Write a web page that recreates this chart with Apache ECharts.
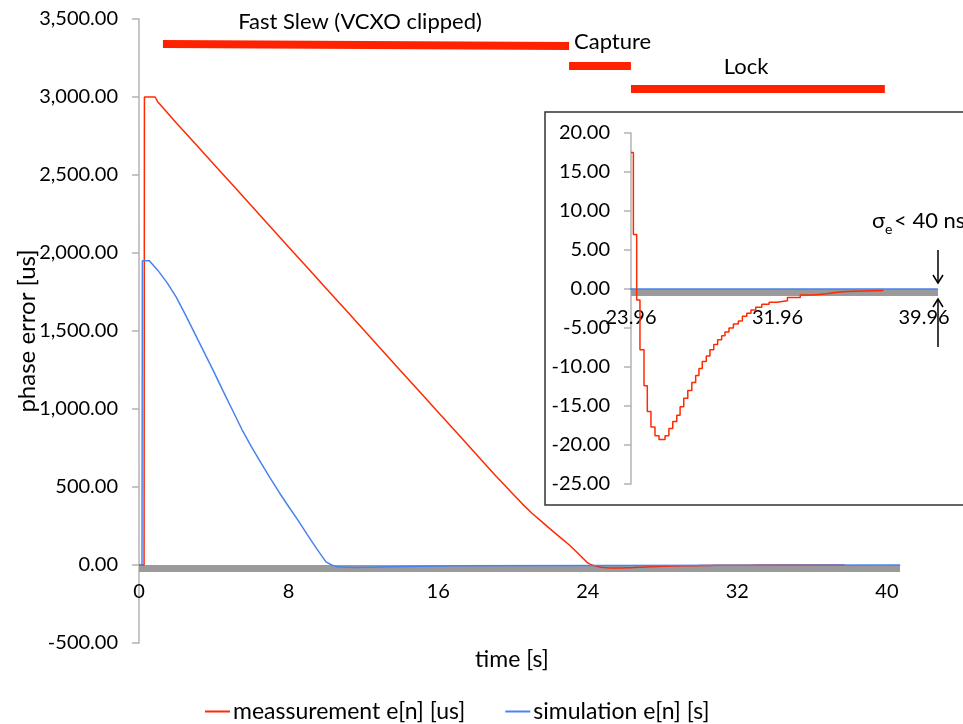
<!DOCTYPE html>
<html>
<head>
<meta charset="utf-8">
<style>
  html, body { margin: 0; padding: 0; background: #fff; }
  #chart { width: 963px; height: 724px; }
</style>
</head>
<body>
<div id="chart"></div>
<script src="https://cdn.jsdelivr.net/npm/echarts@6/dist/echarts.min.js"></script>
<script>
// measurement during fast slew, time [s] / phase error [us]
let slewTime = [0, 0.27, 0.29, 0.86, 1, 2, 3, 4, 5, 6, 7, 8, 9, 10, 11, 12, 13, 14, 15, 16, 17, 18, 19, 20, 20.5, 21, 21.6, 22, 22.67, 23, 23.42]
let slewValue = [0, 0, 3000, 3000, 2970, 2834, 2702, 2569, 2437, 2304, 2172, 2039, 1907, 1774, 1642, 1509, 1377, 1244, 1112, 979, 847, 714, 582, 455, 392, 333, 272, 230, 163, 130, 82]

// measurement after capture (also the inset)
let lockTime = [23.96, 24.09, 24.27, 24.45, 24.67, 24.85, 25.05, 25.27, 25.49, 25.82, 26.03, 26.24, 26.46, 26.64, 26.84, 27.06, 27.28, 27.49, 27.67, 27.85, 28.07, 28.27, 28.48, 28.69, 28.91, 29.09, 29.31, 29.55, 29.82, 30.04, 30.28, 30.51, 30.77, 31.1, 31.5, 31.92, 32.5, 33.2, 33.9, 34.65, 35.2, 35.74, 36.7, 37.74]
let lockValue = [17.5, 7.0, -1.4, -7.8, -12.4, -15.7, -17.7, -18.8, -19.3, -18.8, -17.9, -17.0, -16.2, -15.1, -14.0, -13.0, -12.0, -11.1, -10.2, -9.3, -8.6, -7.8, -7.1, -6.5, -6.0, -5.5, -5.0, -4.5, -4.1, -3.5, -3.1, -2.7, -2.35, -1.96, -1.7, -1.5, -1.1, -0.77, -0.6, -0.42, -0.33, -0.26, -0.2, -0.17]

// simulation
let simTime = [0, 0.16, 0.18, 0.55, 1, 1.5, 2, 2.5, 3, 3.5, 4, 4.5, 5, 5.5, 6, 6.5, 7, 7.5, 8, 8.5, 9, 9.5, 10, 10.3, 10.6, 11.5, 13.5, 17, 17.1, 40.7]
let simValue = [0, 0, 1951, 1951, 1890, 1810, 1715, 1600, 1480, 1360, 1240, 1115, 992, 870, 760, 660, 560, 465, 375, 288, 195, 105, 20, 0, -12, -16, -12, -5, 0, 0]

// grey band under the zero line
let bandTime = [0, 40.7]
let bandValue = [-22, -22]
let bandInsetTime = [23.96, 40.72]
let bandInsetValue = [-0.45, -0.45]

// phases drawn as red bars on top
let phaseStart = [1.28, 23.0, 26.31]
let phaseEnd = [23.0, 26.31, 39.89]

let zip = (xs, ys) => xs.map((x, i) => [x, ys[i]])

let red = '#ff2a00'
let blue = '#4a82f0'
let grey = '#9a9a9a'
let font = 'Lato'

let myChart = echarts.init(document.getElementById('chart'))
let axisGrey = { color: '#b3b3b3', width: 1.5 }

let option = {
  animation: false,
  textStyle: { fontFamily: font },
  grid: [
    { left: 139, top: 19, width: 761, height: 624, outerBoundsMode: 'none' },
    { left: 631, top: 133, width: 307, height: 351, outerBoundsMode: 'none' }
  ],
  legend: {
    left: 205,
    top: 700,
    padding: 0,
    icon: 'rect',
    itemWidth: 25,
    itemHeight: 2,
    itemGap: 40,
    data: ['meassurement e[n] [us]', 'simulation e[n] [s]'],
    textStyle: { fontFamily: font, fontSize: 23, color: '#000', padding: [0, 0, 0, -2] }
  },
  xAxis: [
    {
      // x axis sits on the zero line (-500..3500 over 624px)
      type: 'value', gridIndex: 0, min: 0, max: 40.7, interval: 8, offset: -78,
      axisLine: { show: true, onZero: false, lineStyle: { color: '#b3b3b3' } },
      axisTick: { show: false },
      splitLine: { show: false },
      axisLabel: { margin: 17, fontSize: 20, color: '#000', fontFamily: font, showMaxLabel: false }
    },
    {
      type: 'value', gridIndex: 1, min: 23.96, max: 40.72, interval: 8, offset: -195,
      axisLine: { show: true, onZero: false, lineStyle: { color: '#b3b3b3' } },
      axisTick: { show: false },
      splitLine: { show: false },
      axisLabel: {
        margin: 19, fontSize: 20, color: '#000', fontFamily: font, showMaxLabel: false,
        formatter: v => v.toFixed(2)
      }
    }
  ],
  yAxis: [
    {
      type: 'value', gridIndex: 0, min: -500, max: 3500, interval: 500,
      axisLine: { show: true, onZero: false, lineStyle: axisGrey },
      axisTick: { show: true, length: 7, lineStyle: axisGrey },
      splitLine: { show: false },
      axisLabel: {
        margin: 21, fontSize: 20, color: '#000', fontFamily: font,
        formatter: v => v.toLocaleString('en-US', { minimumFractionDigits: 2, maximumFractionDigits: 2 })
      }
    },
    {
      type: 'value', gridIndex: 1, min: -25, max: 20, interval: 5,
      axisLine: { show: true, onZero: false, lineStyle: axisGrey },
      axisTick: { show: true, length: 7, lineStyle: axisGrey },
      splitLine: { show: false },
      axisLabel: { margin: 21, fontSize: 20, color: '#000', fontFamily: font, formatter: v => v.toFixed(2) }
    }
  ],
  series: [
    {
      name: 'band', type: 'line', xAxisIndex: 0, yAxisIndex: 0, z: 1,
      data: zip(bandTime, bandValue), symbol: 'none', silent: true,
      lineStyle: { color: grey, width: 7, cap: 'butt' }
    },
    {
      name: 'meassurement e[n] [us]', type: 'line', xAxisIndex: 0, yAxisIndex: 0, z: 3,
      data: zip(slewTime.concat(lockTime), slewValue.concat(lockValue)),
      symbol: 'none', color: red, lineStyle: { color: red, width: 1.5 },
      markLine: {
        silent: true,
        symbol: ['none', 'none'],
        label: { show: false },
        emphasis: { disabled: true },
        lineStyle: { color: '#ff2200', width: 8, type: 'solid', cap: 'butt' },
        data: [
          [{ coord: [phaseStart[0], 3340] }, { coord: [phaseEnd[0], 3327] }],
          [{ coord: [phaseStart[1], 3199] }, { coord: [phaseEnd[1], 3199] }],
          [{ coord: [phaseStart[2], 3054] }, { coord: [phaseEnd[2], 3054] }]
        ]
      }
    },
    {
      name: 'simulation e[n] [s]', type: 'line', xAxisIndex: 0, yAxisIndex: 0, z: 4,
      data: zip(simTime, simValue),
      symbol: 'none', color: blue, lineStyle: { color: blue, width: 1.5 }
    },
    {
      name: 'band inset', type: 'line', xAxisIndex: 1, yAxisIndex: 1, z: 5,
      data: zip(bandInsetTime, bandInsetValue), symbol: 'none', silent: true,
      lineStyle: { color: grey, width: 7, cap: 'butt' }
    },
    {
      name: 'simulation inset', type: 'line', xAxisIndex: 1, yAxisIndex: 1, z: 6, clip: true,
      data: zip(simTime, simValue), symbol: 'none', silent: true,
      lineStyle: { color: blue, width: 1.5 }
    },
    {
      name: 'measurement inset', type: 'line', xAxisIndex: 1, yAxisIndex: 1, z: 7, clip: true,
      data: zip(lockTime, lockValue), step: 'end', symbol: 'none', silent: true,
      lineStyle: { color: red, width: 1.5 }
    }
  ],
  graphic: [
    {
      type: 'rect', z: 0, silent: true,
      shape: { x: 545, y: 112, width: 440, height: 393 },
      style: { fill: '#fff', stroke: '#333', lineWidth: 1.5 }
    },
    // axis titles
    { type: 'text', x: 27, y: 331, rotation: Math.PI / 2, style: { text: 'phase error [us]', font: '24px Lato', fill: '#000', align: 'center', verticalAlign: 'middle' } },
    { type: 'text', x: 512, y: 660, style: { text: 'time [s]', font: '23px Lato', fill: '#000', align: 'center', verticalAlign: 'middle' } },
    // phase labels
    { type: 'text', x: 360, y: 22, style: { text: 'Fast Slew (VCXO clipped)', font: '22px Lato', fill: '#000', align: 'center', verticalAlign: 'middle' } },
    { type: 'text', x: 574, y: 42, style: { text: 'Capture', font: '22px Lato', fill: '#000', align: 'left', verticalAlign: 'middle' } },
    { type: 'text', x: 746, y: 67, style: { text: 'Lock', font: '22px Lato', fill: '#000', align: 'center', verticalAlign: 'middle' } },
    { type: 'text', x: 872, y: 221, z: 10, style: { text: 'σ', font: '22px Lato', fill: '#000', align: 'left', verticalAlign: 'middle' } },
    { type: 'text', x: 885, y: 229, z: 10, style: { text: 'e', font: '14px Lato', fill: '#000', align: 'left', verticalAlign: 'middle' } },
    { type: 'text', x: 894, y: 221, z: 10, style: { text: '< 40 ns', font: '22px Lato', fill: '#000', align: 'left', verticalAlign: 'middle' } },
    // arrows around the lock band
    { type: 'line', z: 10, shape: { x1: 938, y1: 250, x2: 938, y2: 283 }, style: { stroke: '#000', lineWidth: 1.5 } },
    { type: 'polyline', z: 10, shape: { points: [[933, 275], [938, 283], [943, 275]] }, style: { stroke: '#000', lineWidth: 1.5, fill: null } },
    { type: 'line', z: 10, shape: { x1: 938, y1: 347, x2: 938, y2: 299 }, style: { stroke: '#000', lineWidth: 1.5 } },
    { type: 'polyline', z: 10, shape: { points: [[933, 307], [938, 299], [943, 307]] }, style: { stroke: '#000', lineWidth: 1.5, fill: null } }
  ]
}
myChart.setOption(option)
</script>
</body>
</html>
